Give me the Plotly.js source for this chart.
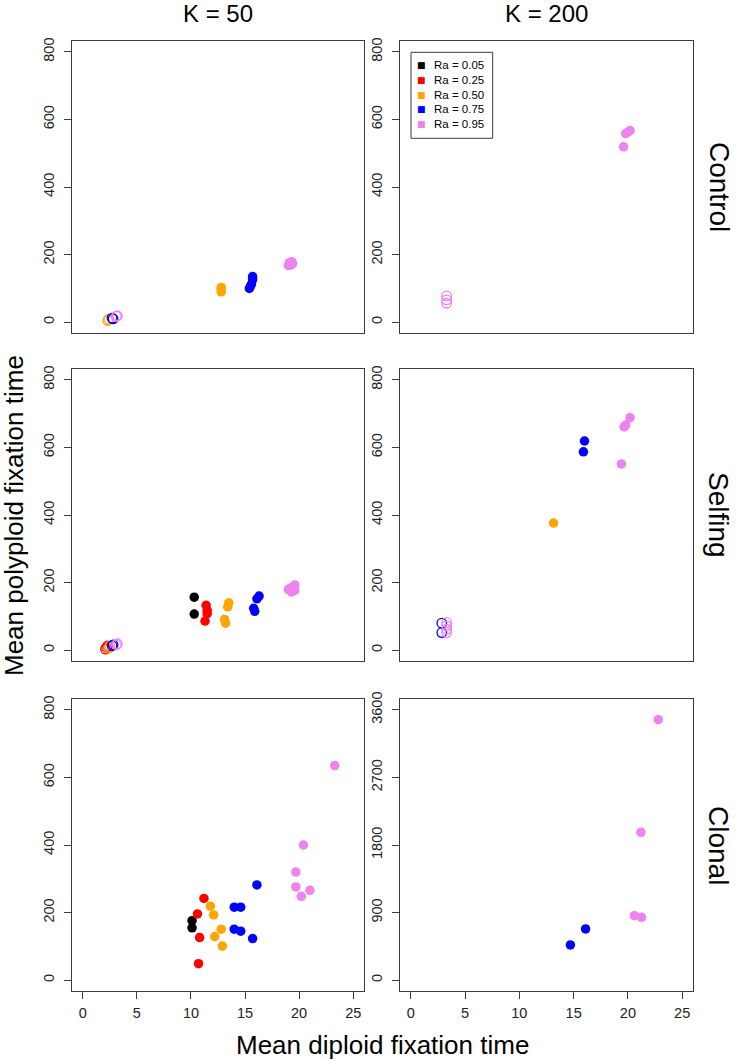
<!DOCTYPE html>
<html><head><meta charset="utf-8">
<script src="https://cdn.plot.ly/plotly-3.0.1.min.js"></script>
<style>html,body{margin:0;padding:0;background:#fff}#chart{width:739px;height:1063px}</style>
</head><body><div id="chart"></div>
<script>
const raLabels = ["Ra = 0.05","Ra = 0.25","Ra = 0.50","Ra = 0.75","Ra = 0.95"];
const raColors = ["#000000","#FF0000","#FFA500","#0000FF","#EE82EE"];
const kLabels = ["K = 50","K = 200"];
const modeLabels = ["Control","Selfing","Clonal"];
const xTicks = [0,5,10,15,20,25];
const yTicksSmall = [0,200,400,600,800];
const yTicksLarge = [0,900,1800,2700,3600];
const xTitle = "Mean diploid fixation time";
const yTitle = "Mean polyploid fixation time";

// Control, K = 50
const control50X = [2.3,2.4,2.7,2.8,3.1,3.2, 12.8,12.8,12.8, 15.4,15.5,15.6,15.7,15.7, 19.0,19.1,19.3,19.4,19.2];
const control50Y = [5,9,12,10,17,19, 90,97,103, 100,106,113,126,135, 168,176,179,173,169];
const control50Ra = [2,2,3,3,4,4, 2,2,2, 3,3,3,3,3, 4,4,4,4,4];
const control50Open = [1,1,1,1,1,1, 0,0,0, 0,0,0,0,0, 0,0,0,0,0];
// Control, K = 200
const control200X = [3.3,3.3,3.3, 19.6,19.8,20.0,20.2];
const control200Y = [56,66,78, 519,558,562,567];
const control200Ra = [4,4,4, 4,4,4,4];
const control200Open = [1,1,1, 0,0,0,0];
// Selfing, K = 50
const selfing50X = [2.1,2.2,2.3,2.4,2.5,2.7,2.8,3.1,3.2, 10.3,10.3, 11.4,11.5,11.5,11.3, 13.5,13.4,13.1,13.2, 16.3,16.1,15.8,15.9, 19.0,19.3,19.5,19.6,19.3,19.6];
const selfing50Y = [3,8,13,6,11,13,16,16,19, 157,107, 133,118,108,86, 140,128,91,80, 160,152,124,115, 180,172,188,193,185,177];
const selfing50Ra = [1,1,1,2,2,3,3,4,4, 0,0, 1,1,1,1, 2,2,2,2, 3,3,3,3, 4,4,4,4,4,4];
const selfing50Open = [1,1,1,1,1,1,1,1,1, 0,0, 0,0,0,0, 0,0,0,0, 0,0,0,0, 0,0,0,0,0,0];
// Selfing, K = 200
const selfing200X = [2.85,2.85,3.3,3.3,3.3,3.3, 13.15, 16.0,15.9, 20.2,19.8,19.65,19.4];
const selfing200Y = [80,52,82,72,62,52, 376, 619,587, 688,666,661,551];
const selfing200Ra = [3,3,4,4,4,4, 2, 3,3, 4,4,4,4];
const selfing200Open = [1,1,1,1,1,1, 0, 0,0, 0,0,0,0];
// Clonal, K = 50
const clonal50X = [10.1,10.1, 11.2,10.6,10.8,10.7, 11.8,12.1,12.8,12.2,12.9, 16.1,14.0,14.6,14.0,14.6,15.7, 19.7,19.7,20.2,21.0,20.4,23.3];
const clonal50Y = [176,155, 242,196,126,49, 219,193,151,129,101, 282,216,216,151,145,123, 320,276,248,266,400,635];
const clonal50Ra = [0,0, 1,1,1,1, 2,2,2,2,2, 3,3,3,3,3,3, 4,4,4,4,4,4];
const clonal50Open = [0,0, 0,0,0,0, 0,0,0,0,0, 0,0,0,0,0,0, 0,0,0,0,0,0];
// Clonal, K = 200
const clonal200X = [14.7,16.1, 22.8,21.2,20.6,21.25];
const clonal200Y = [470,682, 3468,1969,859,837];
const clonal200Ra = [3,3, 4,4,4,4];
const clonal200Open = [0,0, 0,0,0,0];

const panels = [
  {x:control50X, y:control50Y, ra:control50Ra, open:control50Open, row:0, col:0},
  {x:control200X, y:control200Y, ra:control200Ra, open:control200Open, row:0, col:1},
  {x:selfing50X, y:selfing50Y, ra:selfing50Ra, open:selfing50Open, row:1, col:0},
  {x:selfing200X, y:selfing200Y, ra:selfing200Ra, open:selfing200Open, row:1, col:1},
  {x:clonal50X, y:clonal50Y, ra:clonal50Ra, open:clonal50Open, row:2, col:0},
  {x:clonal200X, y:clonal200Y, ra:clonal200Ra, open:clonal200Open, row:2, col:1}
];

const W = 739, H = 1063;
const FONT = "Liberation Sans, Arial, Helvetica, sans-serif";
const colPx = [[72,364],[400,693]];
const rowPx = [[41,333],[369,661],[699,991]];
const LC = "#3a3a3a";

const traces = [];
const layout = {
  width: W, height: H, margin:{l:0,r:0,t:0,b:0},
  paper_bgcolor:"#fff", plot_bgcolor:"#fff",
  showlegend:false, font:{family:FONT, color:"#000"},
  annotations:[], shapes:[]
};

panels.forEach((p, i) => {
  const k = i + 1;
  const xa = "x" + (k === 1 ? "" : k), ya = "y" + (k === 1 ? "" : k);
  for (let r = 0; r < raLabels.length; r++) {
    for (const o of [1, 0]) {
      const xs = [], ys = [];
      p.x.forEach((v, j) => { if (p.ra[j] === r && p.open[j] === o) { xs.push(v); ys.push(p.y[j]); } });
      if (!xs.length) continue;
      traces.push({
        type:"scatter", mode:"markers", x:xs, y:ys, xaxis:xa, yaxis:ya,
        name: raLabels[r], showlegend:false, cliponaxis:false,
        marker:{color:raColors[r], size:9.5, symbol: o ? "circle-open" : "circle",
                line:{width: o ? 1.3 : 0, color: raColors[r]}}
      });
    }
  }
  const bottom = p.row === 2;
  const big = (p.row === 2 && p.col === 1);
  const cx = colPx[p.col], ry = rowPx[p.row];
  layout["xaxis" + (k === 1 ? "" : k)] = {
    domain:[cx[0]/W, cx[1]/W], anchor: ya, range:[-1,26],
    showline:true, mirror:true, linecolor:LC, linewidth:1,
    showgrid:false, zeroline:false,
    ticks: bottom ? "outside" : "", ticklen:7, tickwidth:1, tickcolor:LC,
    tickvals: xTicks, showticklabels: bottom, ticklabelstandoff: 2,
    tickfont:{family:FONT, size:14.5, color:"#222"}
  };
  layout["yaxis" + (k === 1 ? "" : k)] = {
    domain:[1 - ry[1]/H, 1 - ry[0]/H], anchor: xa,
    range: big ? [-144, 3744] : [-32, 832],
    tickvals: big ? yTicksLarge : yTicksSmall,
    showline:true, mirror:true, linecolor:LC, linewidth:1,
    showgrid:false, zeroline:false,
    ticks:"outside", ticklen:7, tickwidth:1, tickcolor:LC, tickangle:-90,
    ticklabelstandoff: 4,
    tickfont:{family:FONT, size:14.5, color:"#222"}
  };
});

kLabels.forEach((t, c) => layout.annotations.push({
  text:t, x:(colPx[c][0]+colPx[c][1])/2/W, y:1-14/H, xref:"paper", yref:"paper",
  showarrow:false, xanchor:"center", yanchor:"middle", font:{family:FONT, size:24, color:"#000"}
}));
modeLabels.forEach((t, r) => layout.annotations.push({
  text:t, x:719/W, y:1-(rowPx[r][0]+rowPx[r][1])/2/H, xref:"paper", yref:"paper",
  showarrow:false, textangle:90, xanchor:"center", yanchor:"middle", font:{family:FONT, size:28, color:"#000"}
}));
layout.annotations.push({
  text:xTitle, x:(72+693)/2/W, y:1-1045/H, xref:"paper", yref:"paper",
  showarrow:false, xanchor:"center", yanchor:"middle", font:{family:FONT, size:26, color:"#000"}
});
layout.annotations.push({
  text:yTitle, x:14/W, y:1-516/H, xref:"paper", yref:"paper",
  showarrow:false, textangle:-90, xanchor:"center", yanchor:"middle", font:{family:FONT, size:26, color:"#000"}
});

// legend (Control, K = 200 panel)
const lg = {x0:411, x1:492.7, y0:52.3, y1:138.3, first:65.3, step:14.7};
layout.shapes.push({type:"rect", xref:"paper", yref:"paper",
  x0:lg.x0/W, x1:lg.x1/W, y0:1-lg.y1/H, y1:1-lg.y0/H, line:{color:LC, width:1}, fillcolor:"rgba(0,0,0,0)"});
raLabels.forEach((t, r) => {
  const yy = 1 - (lg.first + r*lg.step)/H;
  layout.annotations.push({text:"■", x:421.7/W, y:yy, xref:"paper", yref:"paper", showarrow:false,
    xanchor:"center", yanchor:"middle", font:{family:"DejaVu Sans", size:9, color:raColors[r]}});
  layout.annotations.push({text:t, x:432/W, y:yy, xref:"paper", yref:"paper", showarrow:false,
    xanchor:"left", yanchor:"middle", font:{family:FONT, size:11.5, color:"#000"}});
});

Plotly.newPlot("chart", traces, layout, {staticPlot:true, displayModeBar:false});
</script>
</body></html>
